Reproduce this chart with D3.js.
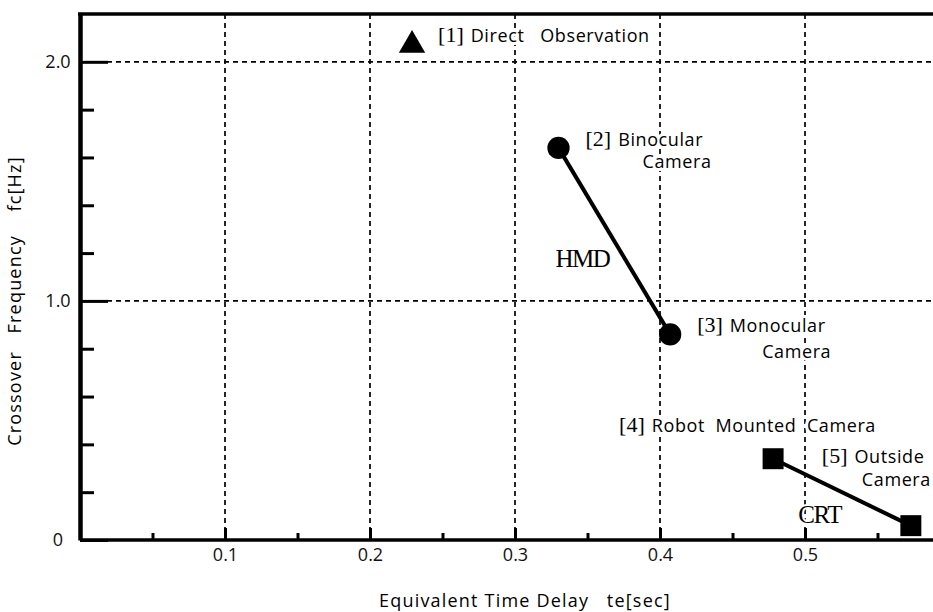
<!DOCTYPE html>
<html>
<head>
<meta charset="utf-8">
<script src="https://cdn.jsdelivr.net/npm/d3@7"></script>
<style>
  body { margin: 0; background: #fff; }
  svg { display: block; }
</style>
</head>
<body>
<script>
// values
const ids = ["[1]", "[2]", "[3]", "[4]", "[5]"];
const nameLines = [
  ["Direct   Observation"],
  ["Binocular", "Camera"],
  ["Monocular", "Camera"],
  ["Robot  Mounted  Camera"],
  ["Outside", "Camera"]
];
const timeDelay = [0.229, 0.330, 0.407, 0.478, 0.573];   // te [sec]
const crossFreq = [2.07, 1.64, 0.86, 0.34, 0.06];        // fc [Hz]
const markers = ["triangle", "circle", "circle", "square", "square"];
const groups = [{ name: "HMD", from: 1, to: 2 }, { name: "CRT", from: 3, to: 4 }];

const xTicks = [0.1, 0.2, 0.3, 0.4, 0.5];
const xMinor = [0.05, 0.15, 0.25, 0.35, 0.45, 0.55];
const yTicks = [0, 1, 2];
const yTickLabels = ["0", "1.0", "2.0"];
const yMinor = [0.2, 0.4, 0.6, 0.8, 1.2, 1.4, 1.6, 1.8];

const width = 933, height = 612;
const sans = "'Open Sans', 'DejaVu Sans', sans-serif";
const serif = "'Liberation Serif', 'Times New Roman', serif";

// scales (the right part of the plot runs off the page, as in the scan)
var x = d3.scaleLinear().domain([0, 0.6]).range([80, 950]);
var y = d3.scaleLinear().domain([0, 2.2]).range([540, 14]);

var svg = d3.select("body").append("svg")
  .attr("width", width)
  .attr("height", height);

// dashed grid
svg.append("g").selectAll("line")
  .data(xTicks)
  .join("line")
  .attr("x1", d => x(d)).attr("x2", d => x(d))
  .attr("y1", y(2.2)).attr("y2", y(0))
  .attr("stroke", "#000").attr("stroke-width", 1.7)
  .attr("stroke-dasharray", "5,4");

svg.append("g").selectAll("line")
  .data([1, 2])
  .join("line")
  .attr("x1", x(0)).attr("x2", width)
  .attr("y1", d => y(d)).attr("y2", d => y(d))
  .attr("stroke", "#000").attr("stroke-width", 1.7)
  .attr("stroke-dasharray", "5,4");

// top frame
svg.append("line")
  .attr("x1", x(0) - 2).attr("x2", width)
  .attr("y1", y(2.2)).attr("y2", y(2.2))
  .attr("stroke", "#000").attr("stroke-width", 3.5);

// x axis, ticks point up into the plot
var xAxis = svg.append("g")
  .attr("transform", "translate(0," + y(0) + ")")
  .call(d3.axisBottom(x).tickValues(xTicks).tickSize(-12).tickSizeOuter(0)
    .tickPadding(8).tickFormat(d3.format(".1f")));
xAxis.select(".domain").attr("stroke-width", 3.5).attr("d", "M" + x(0) + ",0H" + width);
xAxis.selectAll(".tick line").attr("stroke-width", 3);
xAxis.selectAll("text").attr("font-family", sans).attr("font-size", 18).attr("fill", "#111");

svg.append("g")
  .attr("transform", "translate(0," + y(0) + ")")
  .call(d3.axisBottom(x).tickValues(xMinor).tickSize(-7).tickFormat(""))
  .call(g => g.select(".domain").remove())
  .selectAll(".tick line").attr("stroke-width", 3);

// y axis, ticks point right into the plot
var yAxis = svg.append("g")
  .attr("transform", "translate(" + x(0) + ",0)")
  .call(d3.axisLeft(y).tickValues(yTicks).tickSize(-28).tickSizeOuter(0)
    .tickFormat((d, i) => yTickLabels[i]));
yAxis.select(".domain").attr("stroke-width", 4.5);
yAxis.selectAll(".tick line").attr("stroke-width", 3);
yAxis.selectAll("text")
  .attr("x", -22).attr("text-anchor", "middle")
  .attr("font-family", sans).attr("font-size", 18).attr("fill", "#111");

svg.append("g")
  .attr("transform", "translate(" + x(0) + ",0)")
  .call(d3.axisLeft(y).tickValues(yMinor).tickSize(-14).tickFormat(""))
  .call(g => g.select(".domain").remove())
  .selectAll(".tick line").attr("stroke-width", 3);

// axis titles
svg.append("text")
  .attr("x", 379).attr("y", 607)
  .attr("font-family", sans).attr("font-size", 18).attr("letter-spacing", 1.2)
  .style("white-space", "pre")
  .text("Equivalent Time Delay   te[sec]");

svg.append("text")
  .attr("transform", "translate(21," + 301 + ") rotate(-90)")
  .attr("text-anchor", "middle")
  .attr("font-family", sans).attr("font-size", 18).attr("letter-spacing", 1.2)
  .style("white-space", "pre")
  .text("Crossover   Frequency    fc[Hz]");

var points = ids.map((id, i) => ({ id: id, te: timeDelay[i], fc: crossFreq[i], mark: markers[i], lines: nameLines[i] }));

// connecting lines
var line = d3.line().x(d => x(d.te)).y(d => y(d.fc));
svg.append("g").selectAll("path")
  .data(groups)
  .join("path")
  .attr("d", g => line([points[g.from], points[g.to]]))
  .attr("fill", "none").attr("stroke", "#000").attr("stroke-width", 4);

// markers
var shapes = { triangle: d3.symbol(d3.symbolTriangle, 300), circle: d3.symbol(d3.symbolCircle, 390), square: d3.symbol(d3.symbolSquare, 440) };
svg.append("g").selectAll("path")
  .data(points)
  .join("path")
  .attr("transform", d => "translate(" + x(d.te) + "," + y(d.fc) + ")")
  .attr("d", d => shapes[d.mark]())
  .attr("fill", "#000");

// point labels: offsets from each marker
var labelPos = [
  { dx: 26, dy: -3, dx2: 0, dy2: 0 },
  { dx: 27, dy: -2, dx2: 84, dy2: 20 },
  { dx: 27, dy: -2, dx2: 92, dy2: 24 },
  { dx: -154, dy: -27, dx2: 0, dy2: 0 },
  { dx: -89, dy: -63, dx2: -49, dy2: -40 }
];

var lab = svg.append("g")
  .selectAll("g")
  .data(points)
  .join("g")
  .attr("transform", d => "translate(" + x(d.te) + "," + y(d.fc) + ")");

var first = lab.append("text")
  .attr("x", (d, i) => labelPos[i].dx)
  .attr("y", (d, i) => labelPos[i].dy)
  .attr("stroke", "#fff").attr("stroke-width", 6).attr("paint-order", "stroke")
  .style("white-space", "pre");
first.append("tspan")
  .attr("font-family", serif).attr("font-size", 22)
  .text(d => d.id);
first.append("tspan")
  .attr("dx", 7)
  .attr("font-family", sans).attr("font-size", 18).attr("letter-spacing", 0.6)
  .text(d => d.lines[0]);

lab.filter(d => d.lines.length > 1).append("text")
  .attr("x", d => labelPos[points.indexOf(d)].dx2)
  .attr("y", d => labelPos[points.indexOf(d)].dy2)
  .attr("stroke", "#fff").attr("stroke-width", 6).attr("paint-order", "stroke")
  .attr("font-family", sans).attr("font-size", 18).attr("letter-spacing", 0.6)
  .text(d => d.lines[1]);

// HMD / CRT group labels, placed off the middle of each segment
var groupPos = [{ dx: -5, dy: 26 }, { dx: -1, dy: 31 }];
svg.append("g").selectAll("text")
  .data(groups)
  .join("text")
  .attr("x", (g, i) => (x(points[g.from].te) + x(points[g.to].te)) / 2 + groupPos[i].dx)
  .attr("y", (g, i) => (y(points[g.from].fc) + y(points[g.to].fc)) / 2 + groupPos[i].dy)
  .attr("text-anchor", "end")
  .attr("font-family", serif).attr("font-size", 25).attr("letter-spacing", -1.5)
  .attr("stroke", "#fff").attr("stroke-width", 4).attr("paint-order", "stroke")
  .text(g => g.name);
</script>
</body>
</html>
